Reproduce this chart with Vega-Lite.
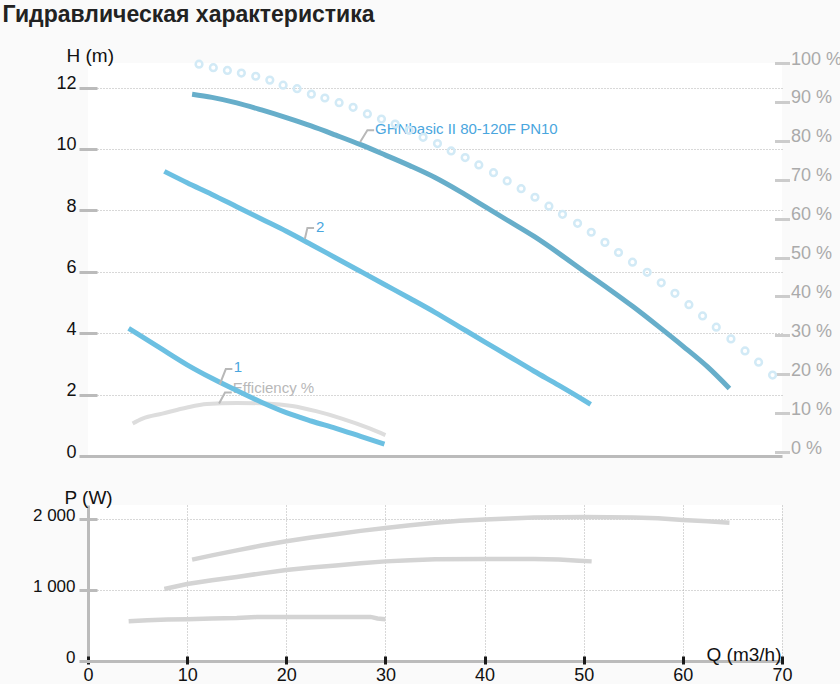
{
  "$schema": "https://vega.github.io/schema/vega-lite/v6.json",
  "background": "#fafafa",
  "padding": {"left": 2, "top": 4, "right": 0, "bottom": 0},
  "title": {
    "text": "Гидравлическая характеристика",
    "anchor": "start",
    "font": "Liberation Sans",
    "fontSize": 23,
    "fontWeight": "bold",
    "color": "#222222",
    "offset": 19,
    "dx": -30
  },
  "config": {
    "font": "Liberation Sans",
    "view": {"fill": "#ffffff", "stroke": null},
    "axis": {
      "titleFont": "Liberation Sans",
      "labelFont": "Liberation Sans",
      "titleFontWeight": "normal",
      "titleFontSize": 19,
      "titleColor": "#111111",
      "labelColor": "#111111"
    }
  },
  "datasets": {
    "head": [
      {"series": "GHN", "Q": 10.5, "H": 11.78},
      {"series": "GHN", "Q": 12.5, "H": 11.68},
      {"series": "GHN", "Q": 15, "H": 11.5},
      {"series": "GHN", "Q": 17.5, "H": 11.27},
      {"series": "GHN", "Q": 20, "H": 11.02},
      {"series": "GHN", "Q": 22.5, "H": 10.75},
      {"series": "GHN", "Q": 25, "H": 10.45},
      {"series": "GHN", "Q": 27.5, "H": 10.14},
      {"series": "GHN", "Q": 30, "H": 9.8},
      {"series": "GHN", "Q": 32.5, "H": 9.45},
      {"series": "GHN", "Q": 35, "H": 9.07},
      {"series": "GHN", "Q": 37.5, "H": 8.62},
      {"series": "GHN", "Q": 40, "H": 8.13},
      {"series": "GHN", "Q": 42.5, "H": 7.64},
      {"series": "GHN", "Q": 45, "H": 7.15},
      {"series": "GHN", "Q": 47.5, "H": 6.6},
      {"series": "GHN", "Q": 50, "H": 6.02},
      {"series": "GHN", "Q": 52.5, "H": 5.45},
      {"series": "GHN", "Q": 55, "H": 4.86},
      {"series": "GHN", "Q": 57.5, "H": 4.23},
      {"series": "GHN", "Q": 60, "H": 3.58},
      {"series": "GHN", "Q": 62.5, "H": 2.9},
      {"series": "GHN", "Q": 64.7, "H": 2.2},
      {"series": "2", "Q": 7.7, "H": 9.27},
      {"series": "2", "Q": 10, "H": 8.9},
      {"series": "2", "Q": 12.5, "H": 8.52},
      {"series": "2", "Q": 15, "H": 8.12},
      {"series": "2", "Q": 17.5, "H": 7.72},
      {"series": "2", "Q": 20, "H": 7.32},
      {"series": "2", "Q": 22.5, "H": 6.89},
      {"series": "2", "Q": 25, "H": 6.45},
      {"series": "2", "Q": 27.5, "H": 6.01},
      {"series": "2", "Q": 30, "H": 5.57},
      {"series": "2", "Q": 32.5, "H": 5.13},
      {"series": "2", "Q": 35, "H": 4.68},
      {"series": "2", "Q": 37.5, "H": 4.2},
      {"series": "2", "Q": 40, "H": 3.72},
      {"series": "2", "Q": 42.5, "H": 3.24},
      {"series": "2", "Q": 45, "H": 2.76},
      {"series": "2", "Q": 47.5, "H": 2.3},
      {"series": "2", "Q": 50, "H": 1.82},
      {"series": "2", "Q": 50.7, "H": 1.68},
      {"series": "1", "Q": 4.1, "H": 4.16},
      {"series": "1", "Q": 5, "H": 3.98},
      {"series": "1", "Q": 7.5, "H": 3.47},
      {"series": "1", "Q": 10, "H": 2.97},
      {"series": "1", "Q": 12.5, "H": 2.53},
      {"series": "1", "Q": 15, "H": 2.13},
      {"series": "1", "Q": 17.5, "H": 1.75},
      {"series": "1", "Q": 20, "H": 1.41},
      {"series": "1", "Q": 22.5, "H": 1.14},
      {"series": "1", "Q": 25, "H": 0.9},
      {"series": "1", "Q": 27.5, "H": 0.64},
      {"series": "1", "Q": 29.9, "H": 0.39}
    ],
    "efficiency": [
      {"Q": 4.5, "H": 1.06},
      {"Q": 5.5, "H": 1.22},
      {"Q": 7.5, "H": 1.38},
      {"Q": 10, "H": 1.58},
      {"Q": 12, "H": 1.69},
      {"Q": 15, "H": 1.73},
      {"Q": 18, "H": 1.71},
      {"Q": 20.6, "H": 1.63},
      {"Q": 23, "H": 1.46},
      {"Q": 25.6, "H": 1.22},
      {"Q": 28.4, "H": 0.9},
      {"Q": 30, "H": 0.68}
    ],
    "effLabel": [
      {"label": "Efficiency %", "Q": 14.6, "H": 2.21}
    ],
    "leaders": [
      {"id": "GHN", "Q": 27.45, "H": 10.23},
      {"id": "GHN", "Q": 28.18, "H": 10.61},
      {"id": "GHN", "Q": 28.86, "H": 10.61},
      {"id": "2", "Q": 21.87, "H": 7.07},
      {"id": "2", "Q": 22.13, "H": 7.43},
      {"id": "2", "Q": 22.8, "H": 7.43},
      {"id": "1", "Q": 13.29, "H": 2.33},
      {"id": "1", "Q": 13.9, "H": 2.83},
      {"id": "1", "Q": 14.56, "H": 2.83},
      {"id": "eff", "Q": 13.22, "H": 1.71},
      {"id": "eff", "Q": 13.82, "H": 2.07},
      {"id": "eff", "Q": 14.5, "H": 2.07}
    ],
    "labels": [
      {"label": "GHNbasic II 80-120F PN10", "Q": 28.96, "H": 10.66},
      {"label": "2", "Q": 23.0, "H": 7.46},
      {"label": "1", "Q": 14.7, "H": 2.91}
    ],
    "circles": [
      {"Q": 11.2, "pct": 99.7},
      {"Q": 12.64, "pct": 98.8},
      {"Q": 14.06, "pct": 98.1},
      {"Q": 15.47, "pct": 97.4},
      {"Q": 16.92, "pct": 96.6},
      {"Q": 18.34, "pct": 95.6},
      {"Q": 19.68, "pct": 94.3},
      {"Q": 21.09, "pct": 93.4},
      {"Q": 22.53, "pct": 92.0},
      {"Q": 23.89, "pct": 91.0},
      {"Q": 25.33, "pct": 89.8},
      {"Q": 26.74, "pct": 88.6},
      {"Q": 28.18, "pct": 86.9},
      {"Q": 29.6, "pct": 85.6},
      {"Q": 30.98, "pct": 84.3},
      {"Q": 32.39, "pct": 82.7},
      {"Q": 33.8, "pct": 80.9},
      {"Q": 35.25, "pct": 79.3},
      {"Q": 36.63, "pct": 77.4},
      {"Q": 38.04, "pct": 75.7},
      {"Q": 39.42, "pct": 73.8},
      {"Q": 40.9, "pct": 71.8},
      {"Q": 42.28, "pct": 69.7},
      {"Q": 43.69, "pct": 67.7},
      {"Q": 45.08, "pct": 65.5},
      {"Q": 46.49, "pct": 63.2},
      {"Q": 47.86, "pct": 61.1},
      {"Q": 49.38, "pct": 58.8},
      {"Q": 50.76, "pct": 56.5},
      {"Q": 52.14, "pct": 53.9},
      {"Q": 53.51, "pct": 51.3},
      {"Q": 54.92, "pct": 48.8},
      {"Q": 56.4, "pct": 46.2},
      {"Q": 57.82, "pct": 43.5},
      {"Q": 59.2, "pct": 40.8},
      {"Q": 60.61, "pct": 37.9},
      {"Q": 61.99, "pct": 35.0},
      {"Q": 63.37, "pct": 32.1},
      {"Q": 64.85, "pct": 29.1},
      {"Q": 66.27, "pct": 26.0},
      {"Q": 67.64, "pct": 23.1},
      {"Q": 69.05, "pct": 19.8}
    ],
    "power": [
      {"series": "GHN", "Q": 10.5, "P": 1430},
      {"series": "GHN", "Q": 12.5, "P": 1490},
      {"series": "GHN", "Q": 15, "P": 1560},
      {"series": "GHN", "Q": 17.5, "P": 1628},
      {"series": "GHN", "Q": 20, "P": 1690},
      {"series": "GHN", "Q": 22.5, "P": 1742},
      {"series": "GHN", "Q": 25, "P": 1788},
      {"series": "GHN", "Q": 27.5, "P": 1835},
      {"series": "GHN", "Q": 30, "P": 1875},
      {"series": "GHN", "Q": 32.5, "P": 1915},
      {"series": "GHN", "Q": 35, "P": 1950},
      {"series": "GHN", "Q": 37.5, "P": 1978},
      {"series": "GHN", "Q": 40, "P": 1995},
      {"series": "GHN", "Q": 42.5, "P": 2010},
      {"series": "GHN", "Q": 45, "P": 2022},
      {"series": "GHN", "Q": 50, "P": 2030},
      {"series": "GHN", "Q": 55, "P": 2025},
      {"series": "GHN", "Q": 57.5, "P": 2012},
      {"series": "GHN", "Q": 60, "P": 1990},
      {"series": "GHN", "Q": 62.5, "P": 1972},
      {"series": "GHN", "Q": 64.7, "P": 1950},
      {"series": "2", "Q": 7.7, "P": 1015},
      {"series": "2", "Q": 10, "P": 1085},
      {"series": "2", "Q": 12.5, "P": 1138},
      {"series": "2", "Q": 15, "P": 1186},
      {"series": "2", "Q": 17.5, "P": 1236},
      {"series": "2", "Q": 20, "P": 1282},
      {"series": "2", "Q": 22.5, "P": 1318},
      {"series": "2", "Q": 25, "P": 1348},
      {"series": "2", "Q": 27.5, "P": 1378},
      {"series": "2", "Q": 30, "P": 1405},
      {"series": "2", "Q": 32.5, "P": 1422},
      {"series": "2", "Q": 35, "P": 1435},
      {"series": "2", "Q": 40, "P": 1440},
      {"series": "2", "Q": 45, "P": 1440},
      {"series": "2", "Q": 47.5, "P": 1432},
      {"series": "2", "Q": 49.5, "P": 1415},
      {"series": "2", "Q": 50.8, "P": 1405},
      {"series": "1", "Q": 4.1, "P": 560},
      {"series": "1", "Q": 6, "P": 575},
      {"series": "1", "Q": 8, "P": 585},
      {"series": "1", "Q": 10, "P": 590},
      {"series": "1", "Q": 12.5, "P": 598},
      {"series": "1", "Q": 15, "P": 605},
      {"series": "1", "Q": 17, "P": 620},
      {"series": "1", "Q": 20, "P": 622},
      {"series": "1", "Q": 25, "P": 622},
      {"series": "1", "Q": 28.5, "P": 622},
      {"series": "1", "Q": 29.2, "P": 600},
      {"series": "1", "Q": 30, "P": 590}
    ]
  },
  "bounds": "flush",
  "spacing": 49,
  "vconcat": [
    {
      "width": 694,
      "height": 393,
      "resolve": {"scale": {"y": "independent"}},
      "layer": [
        {
          "encoding": {
            "x": {
              "field": "Q",
              "type": "quantitative",
              "scale": {"domain": [0, 70], "nice": false},
              "axis": {
                "values": [0, 10, 20, 30, 40, 50, 60, 70],
                "title": "Q (m3/h)",
                "titleX": 693,
                "titleY": 4,
                "titleAlign": "right",
                "titleBaseline": "alphabetic",
                "offset": -5,
                "tickSize": 8,
                "tickWidth": 3,
                "tickColor": "#1a1a1a",
                "domain": false,
                "labelFontSize": 18,
                "labelPadding": 2,
                "labelFlush": false,
                "labelOverlap": false,
                "grid": true,
                "gridColor": {"condition": {"test": "datum.value === 0", "value": "#bbbbbb"}, "value": "#b0b0b0"},
                "gridWidth": {"condition": {"test": "datum.value === 0", "value": 3}, "value": 1},
                "gridDash": {"condition": {"test": "datum.value === 0", "value": []}, "value": [1, 2]}
              }
            },
            "y": {
              "field": "H",
              "type": "quantitative",
              "scale": {"domain": [0, 12.8], "nice": false},
              "axis": {
                "values": [0, 2, 4, 6, 8, 10, 12],
                "title": "H (m)",
                "titleAngle": 0,
                "titleAlign": "left",
                "titleBaseline": "alphabetic",
                "titleX": -31,
                "titleY": -2,
                "offset": -9,
                "tickSize": 18,
                "tickWidth": 3,
                "tickColor": "#bbbbbb",
                "domain": false,
                "labelFontSize": 18,
                "labelPadding": 3,
                "labelBaseline": "middle",
                "labelOffset": -4,
                "grid": true,
                "gridColor": {"condition": {"test": "datum.value === 0", "value": "#bbbbbb"}, "value": "#b0b0b0"},
                "gridWidth": {"condition": {"test": "datum.value === 0", "value": 3}, "value": 1},
                "gridDash": {"condition": {"test": "datum.value === 0", "value": []}, "value": [1, 2]}
              }
            }
          },
          "layer": [
            {
              "data": {"name": "efficiency"},
              "mark": {"type": "line", "color": "#dddddd", "strokeWidth": 4, "interpolate": "monotone"}
            },
            {
              "data": {"name": "effLabel"},
              "mark": {"type": "text", "align": "left", "baseline": "middle", "fontSize": 15, "color": "#b8b8b8"},
              "encoding": {"text": {"field": "label"}}
            },
            {
              "data": {"name": "head"},
              "mark": {"type": "line", "strokeWidth": 5, "interpolate": "monotone"},
              "encoding": {
                "color": {
                  "field": "series",
                  "scale": {"domain": ["GHN", "2", "1"], "range": ["#67aeca", "#6cc0e2", "#6cc0e2"]},
                  "legend": null
                }
              }
            },
            {
              "data": {"name": "leaders"},
              "mark": {"type": "line", "color": "#b8b8b8", "strokeWidth": 2},
              "encoding": {"detail": {"field": "id"}}
            },
            {
              "data": {"name": "labels"},
              "mark": {"type": "text", "align": "left", "baseline": "middle", "fontSize": 15, "color": "#4aa6de"},
              "encoding": {"text": {"field": "label"}}
            }
          ]
        },
        {
          "data": {"name": "circles"},
          "mark": {"type": "point", "shape": "circle", "filled": false, "stroke": "#d2eaf6", "strokeWidth": 2.5, "size": 45, "opacity": 1},
          "encoding": {
            "x": {"field": "Q", "type": "quantitative", "scale": {"domain": [0, 70], "nice": false}, "axis": null},
            "y": {
              "field": "pct",
              "type": "quantitative",
              "scale": {"domain": [-1, 100], "nice": false, "zero": false},
              "axis": {
                "orient": "right",
                "values": [0, 10, 20, 30, 40, 50, 60, 70, 80, 90, 100],
                "labelExpr": "datum.value + ' %'",
                "title": null,
                "offset": -7.5,
                "tickSize": 15,
                "tickWidth": 3,
                "tickColor": "#cccccc",
                "domain": false,
                "grid": false,
                "labelColor": "#aaaaaa",
                "labelFontSize": 18,
                "labelPadding": 1,
                "labelBaseline": "middle",
                "labelOffset": -4
              }
            }
          }
        }
      ]
    },
    {
      "width": 694,
      "height": 156,
      "data": {"name": "power"},
      "mark": {"type": "line", "color": "#d4d4d4", "strokeWidth": 4.5},
      "encoding": {
        "x": {
          "field": "Q",
          "type": "quantitative",
          "scale": {"domain": [0, 70], "nice": false},
          "axis": {
            "values": [0, 10, 20, 30, 40, 50, 60, 70],
            "title": "Q (m3/h)",
            "titleX": 693,
            "titleY": 4,
            "titleAlign": "right",
            "titleBaseline": "alphabetic",
            "offset": -5,
            "tickSize": 8,
            "tickWidth": 3,
            "tickColor": "#1a1a1a",
            "domain": false,
            "labelFontSize": 18,
            "labelPadding": 2,
            "labelFlush": false,
            "labelOverlap": false,
            "grid": true,
            "gridColor": {"condition": {"test": "datum.value === 0", "value": "#bbbbbb"}, "value": "#b0b0b0"},
            "gridWidth": {"condition": {"test": "datum.value === 0", "value": 3}, "value": 1},
            "gridDash": {"condition": {"test": "datum.value === 0", "value": []}, "value": [1, 2]}
          }
        },
        "y": {
          "field": "P",
          "type": "quantitative",
          "scale": {"domain": [0, 2200], "nice": false},
          "axis": {
            "values": [0, 1000, 2000],
            "labelExpr": "datum.value === 0 ? '0' : replace(format(datum.value, ','), ',', ' ')",
            "title": "P (W)",
            "titleAngle": 0,
            "titleAlign": "left",
            "titleBaseline": "alphabetic",
            "titleX": -33,
            "titleY": -2,
            "offset": -9,
            "tickSize": 18,
            "tickWidth": 3,
            "tickColor": "#bbbbbb",
            "domain": false,
            "labelFontSize": 17,
            "labelPadding": 4,
            "labelBaseline": "middle",
            "labelOffset": -4,
            "grid": true,
            "gridColor": {"condition": {"test": "datum.value === 0", "value": "#bbbbbb"}, "value": "#b0b0b0"},
            "gridWidth": {"condition": {"test": "datum.value === 0", "value": 3}, "value": 1},
            "gridDash": {"condition": {"test": "datum.value === 0", "value": []}, "value": [1, 2]}
          }
        },
        "detail": {"field": "series"}
      }
    }
  ]
}
